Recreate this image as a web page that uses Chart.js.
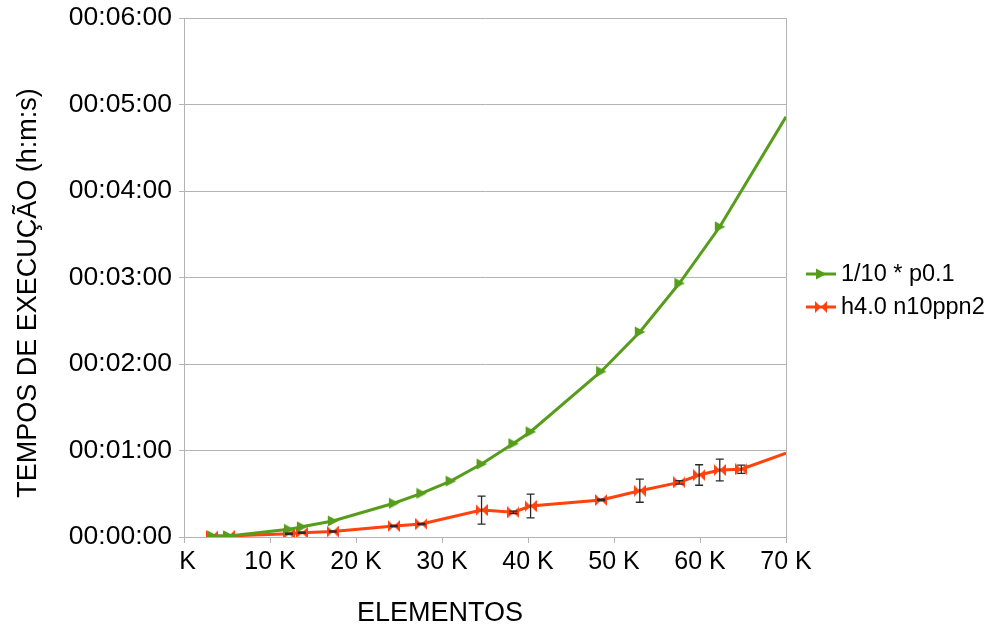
<!DOCTYPE html>
<html>
<head>
<meta charset="utf-8">
<script src="https://cdn.jsdelivr.net/npm/chart.js@4/dist/chart.umd.min.js"></script>
<style>
  html, body { margin: 0; padding: 0; background: #fff; }
  #wrap { width: 990px; height: 627px; }
</style>
</head>
<body>
<div id="wrap"><canvas id="chart" width="990" height="627"></canvas></div>
<script>
// number of elements (x) and execution times in seconds (y)
const elementsP01 = [3300, 5200, 12200, 13700, 17300, 24400, 27600, 31000, 34600, 38300, 40300, 48500, 53000, 57600, 62300, 70000];
const timesP01 = [0.7, 0.7, 5.3, 7.1, 11.1, 23.4, 30.3, 38.8, 50.6, 64.8, 73.0, 114.8, 142.2, 176.0, 215.2, 291.5];

const elementsH40 = [3300, 5200, 12200, 13700, 17300, 24400, 27600, 34600, 38300, 40300, 48500, 53000, 57600, 59900, 62300, 64800, 70000];
const timesH40 = [0.7, 0.7, 2.3, 3.0, 3.8, 7.6, 9.0, 18.7, 17.1, 21.5, 25.7, 32.1, 37.9, 43.0, 46.5, 47.0, 58.1];
const errorsH40 = [0, 0, 0.4, 0.4, 0.4, 0.4, 0.4, 9.7, 0.8, 8.2, 0.5, 8.0, 1.2, 7.1, 7.5, 2.9, 0];

const seriesNames = ["1/10 * p0.1", "h4.0 n10ppn2"];
const xTitle = "ELEMENTOS";
const yTitle = "TEMPOS DE EXECUÇÃO (h:m:s)";

const GREEN = "#579d1c";
const RED = "#ff420e";
const GRID = "#b3b3b3";
const FONT = "'Liberation Sans', Arial, sans-serif";

// markers drawn on small canvases (arrow and bowtie like LibreOffice)
function makeMarker(kind, color) {
    const c = document.createElement("canvas");
    c.width = 12;
    c.height = 12;
    const g = c.getContext("2d");
    g.fillStyle = color;
    g.beginPath();
    if (kind === "arrow") {
        g.moveTo(1, 0.5);
        g.lineTo(11.5, 6);
        g.lineTo(1, 11.5);
        g.closePath();
    } else {
        g.moveTo(0, 0);
        g.lineTo(6, 6);
        g.lineTo(0, 12);
        g.closePath();
        g.moveTo(12, 0);
        g.lineTo(6, 6);
        g.lineTo(12, 12);
        g.closePath();
    }
    g.fill();
    return c;
}
const arrowMarker = makeMarker("arrow", GREEN);
const bowtieMarker = makeMarker("bowtie", RED);

function toPoints(xs, ys) {
    return xs.map((x, i) => ({ x: x, y: ys[i] }));
}

function hms(sec) {
    const h = Math.floor(sec / 3600);
    const m = Math.floor((sec % 3600) / 60);
    const s = Math.round(sec % 60);
    const p = n => String(n).padStart(2, "0");
    return p(h) + ":" + p(m) + ":" + p(s);
}

// hide the marker of the last point (LibreOffice clips it at the border)
function radiusFn(ctx) {
    return ctx.dataIndex === ctx.dataset.data.length - 1 ? 0 : 5;
}

const errorBars = {
    id: "errorBars",
    afterDatasetsDraw(chart) {
        const meta = chart.getDatasetMeta(1);
        const y = chart.scales.y;
        const ctx = chart.ctx;
        ctx.save();
        ctx.strokeStyle = "#2a2a2a";
        ctx.lineWidth = 1.3;
        meta.data.forEach((pt, i) => {
            const e = errorsH40[i];
            if (!e) return;
            const top = y.getPixelForValue(timesH40[i] + e);
            const bot = y.getPixelForValue(timesH40[i] - e);
            ctx.beginPath();
            ctx.moveTo(pt.x, top);
            ctx.lineTo(pt.x, bot);
            ctx.moveTo(pt.x - 4, top);
            ctx.lineTo(pt.x + 4, top);
            ctx.moveTo(pt.x - 4, bot);
            ctx.lineTo(pt.x + 4, bot);
            ctx.stroke();
        });
        ctx.restore();
    }
};

const extras = {
    id: "extras",
    afterDraw(chart) {
        const ctx = chart.ctx;
        const area = chart.chartArea;
        ctx.save();
        // right border of the plot area
        ctx.strokeStyle = GRID;
        ctx.lineWidth = 1;
        ctx.beginPath();
        ctx.moveTo(area.right + 0.5, area.top);
        ctx.lineTo(area.right + 0.5, area.bottom);
        ctx.stroke();

        // axis titles
        ctx.fillStyle = "#000";
        ctx.font = "27px " + FONT;
        ctx.textAlign = "center";
        ctx.textBaseline = "middle";
        ctx.fillText(xTitle, 440, 614);

        ctx.save();
        ctx.translate(29, 293);
        ctx.rotate(-Math.PI / 2);
        ctx.fillText(yTitle, 0, 0);
        ctx.restore();

        // legend
        const markers = [arrowMarker, bowtieMarker];
        const colors = [GREEN, RED];
        const rows = [274, 307];
        ctx.font = "23.5px " + FONT;
        ctx.textAlign = "left";
        seriesNames.forEach((name, i) => {
            ctx.strokeStyle = colors[i];
            ctx.lineWidth = 3;
            ctx.beginPath();
            ctx.moveTo(806, rows[i]);
            ctx.lineTo(836, rows[i]);
            ctx.stroke();
            ctx.drawImage(markers[i], 821 - 6, rows[i] - 6);
            ctx.fillStyle = "#000";
            ctx.fillText(name, 841, rows[i] + 1);
        });
        ctx.restore();
    }
};

const ctx = document.getElementById("chart").getContext("2d");
new Chart(ctx, {
    type: "line",
    data: {
        datasets: [
            {
                label: seriesNames[0],
                data: toPoints(elementsP01, timesP01),
                borderColor: GREEN,
                backgroundColor: GREEN,
                borderWidth: 3,
                pointStyle: arrowMarker,
                pointRadius: radiusFn,
                tension: 0,
                fill: false
            },
            {
                label: seriesNames[1],
                data: toPoints(elementsH40, timesH40),
                borderColor: RED,
                backgroundColor: RED,
                borderWidth: 3,
                pointStyle: bowtieMarker,
                pointRadius: radiusFn,
                tension: 0,
                fill: false
            }
        ]
    },
    options: {
        responsive: false,
        animation: false,
        layout: { padding: { top: 18, right: 204, bottom: 0, left: 0 } },
        plugins: {
            legend: { display: false },
            tooltip: { enabled: false }
        },
        scales: {
            x: {
                type: "linear",
                min: 0,
                max: 70000,
                ticks: {
                    stepSize: 10000,
                    color: "#000",
                    font: { family: FONT, size: 25 },
                    padding: 4,
                    maxRotation: 0,
                    callback: v => (v === 0 ? " K" : v / 1000 + " K")
                },
                grid: { drawOnChartArea: false, color: GRID, tickLength: 6 },
                border: { color: GRID },
                afterFit(scale) { scale.height = 90; }
            },
            y: {
                min: 0,
                max: 360,
                ticks: {
                    stepSize: 60,
                    color: "#000",
                    font: { family: FONT, size: 26.5 },
                    padding: 7,
                    callback: v => hms(v)
                },
                grid: { color: GRID, tickLength: 5 },
                border: { color: GRID },
                afterFit(scale) {
                    scale.width = 184;
                    scale.paddingTop = 0;
                    scale.paddingBottom = 0;
                }
            }
        }
    },
    plugins: [errorBars, extras]
});
</script>
</body>
</html>
